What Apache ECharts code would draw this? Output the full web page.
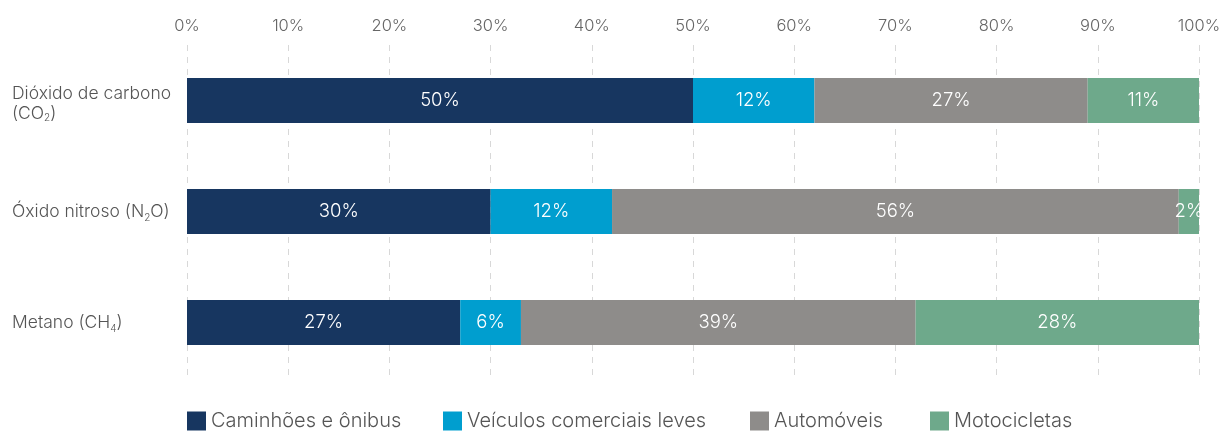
<!DOCTYPE html>
<html>
<head>
<meta charset="utf-8">
<script src="https://cdn.jsdelivr.net/npm/echarts@6/dist/echarts.min.js"></script>
<style>
html,body{margin:0;padding:0;background:#fff;}
#chart{width:1220px;height:431px;}
</style>
</head>
<body>
<div id="chart"></div>
<script>
// Emission shares by vehicle type (%)
const gases = ['co2', 'n2o', 'ch4'];
const seriesNames = ['Caminhões e ônibus', 'Veículos comerciais leves', 'Automóveis', 'Motocicletas'];
const caminhoes = [50, 30, 27];
const comerciais = [12, 12, 6];
const automoveis = [27, 56, 39];
const motocicletas = [11, 2, 28];
const xTicks = [0, 10, 20, 30, 40, 50, 60, 70, 80, 90, 100];
const colors = ['#173660', '#009ecf', '#8e8c8a', '#6ea98b'];

// Gas labels with subscripts, drawn via rich text
const gasLabels = {
  co2: '{first|Dióxido de carbono}\n{second|(CO}{sub2|2}{second|)}',
  n2o: 'Óxido nitroso (N{sub|2}O)',
  ch4: 'Metano (CH{sub|4})'
};

const FONT = 'Inter, "Noto Sans", sans-serif';
const chart = echarts.init(document.getElementById('chart'), null, {renderer: 'canvas'});
const values = [caminhoes, comerciais, automoveis, motocicletas];
const legendLefts = [187, 443, 750, 930];

const labelText = {fontFamily: FONT, fontSize: 17.5, fontWeight: 300, color: '#555'};

chart.setOption({
  backgroundColor: '#ffffff',
  animation: false,
  textStyle: {fontFamily: FONT},
  grid: {left: 187, right: 21, top: 45, bottom: 53, containLabel: false, outerBoundsMode: 'none'},
  legend: seriesNames.map((name, i) => ({
    bottom: 0,
    left: legendLefts[i],
    padding: 0,
    itemWidth: 19,
    itemHeight: 19,
    icon: 'rect',
    textStyle: {fontFamily: FONT, fontSize: 20, color: '#555', fontWeight: 300},
    data: [name]
  })),
  xAxis: {
    type: 'value',
    position: 'top',
    min: 0,
    max: 100,
    interval: 10,
    axisLine: {show: false},
    axisTick: {show: false},
    axisLabel: {
      fontFamily: FONT, fontSize: 16.5, color: '#666', fontWeight: 300, margin: 10,
      formatter: v => xTicks.includes(v) ? v + '%' : ''
    },
    splitLine: {show: true, lineStyle: {color: '#d8d8d8', type: [6, 6], width: 1}}
  },
  yAxis: {
    type: 'category',
    inverse: true,
    data: gases,
    axisLine: {show: false},
    axisTick: {show: false},
    axisLabel: Object.assign({}, labelText, {
      align: 'left',
      margin: 175,
      lineHeight: 22,
      formatter: v => gasLabels[v],
      rich: {
        first: Object.assign({}, labelText, {lineHeight: 22, padding: [9, 0, 0, 0]}),
        second: Object.assign({}, labelText, {lineHeight: 22, padding: [4, 0, 0, 0]}),
        sub2: Object.assign({}, labelText, {fontSize: 10, lineHeight: 22, verticalAlign: 'bottom', padding: [12, 0, 0, 0]}),
        sub: Object.assign({}, labelText, {fontSize: 10, verticalAlign: 'bottom', padding: [8, 0, 0, 0]})
      }
    })
  },
  series: seriesNames.map((name, i) => ({
    name: name,
    type: 'bar',
    stack: 'total',
    barWidth: 45,
    data: values[i],
    itemStyle: {color: colors[i]},
    label: {
      show: true,
      position: 'inside',
      color: '#fff',
      fontFamily: FONT,
      fontSize: 18.5,
      fontWeight: 300,
      formatter: p => p.value + '%'
    }
  }))
});
</script>
</body>
</html>
